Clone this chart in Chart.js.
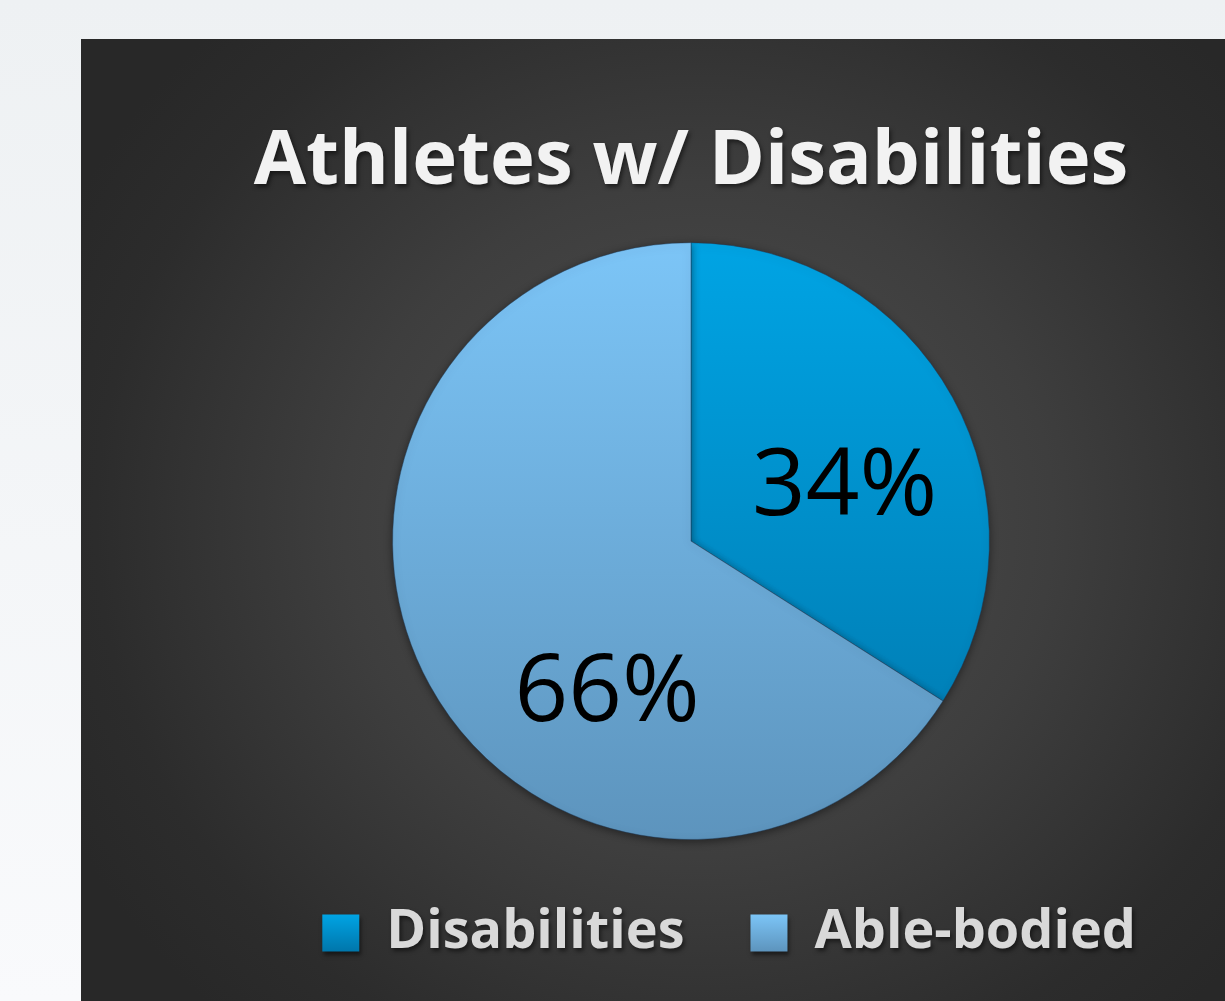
<!DOCTYPE html>
<html>
<head>
<meta charset="utf-8">
<script src="https://cdn.jsdelivr.net/npm/chart.js@4/dist/chart.umd.min.js"></script>
<style>
  html, body { margin: 0; padding: 0; }
  body { width: 1225px; height: 1001px; overflow: hidden; position: relative;
         background: linear-gradient(180deg, #eef1f3 0%, #f9fafc 100%); }
  #panel { position: absolute; left: 81px; top: 39px; right: 0; bottom: 0;
           background: radial-gradient(ellipse 62% 70% at 54% 50%, #505050 0%, #3e3e3e 50%, #2c2c2c 85%, #282828 100%); }
  #wrap { position: absolute; left: 0; top: 0; width: 1225px; height: 1001px; }
</style>
</head>
<body>
<div id="panel"></div>
<div id="wrap"><canvas id="c"></canvas></div>
<script>
const categories = ['Disabilities', 'Able-bodied'];
const values = [34, 66];
const chartTitle = 'Athletes w/ Disabilities';

const topColors = ['#00a4e4', '#7cc5f7'];
const bottomColors = ['#0076ab', '#5d94bd'];
// label anchor offsets (fraction of radius) from pie centre
const labelOffsets = [{dx: 0.515, dy: -0.087}, {dx: -0.281, dy: 0.602}];

function sliceGradient(ctx) {
  const chart = ctx.chart;
  const a = chart.chartArea;
  if (!a) return topColors[ctx.dataIndex];
  const g = chart.ctx.createLinearGradient(0, a.top, 0, a.bottom);
  g.addColorStop(0, topColors[ctx.dataIndex]);
  g.addColorStop(1, bottomColors[ctx.dataIndex]);
  return g;
}

function setShadow(c, col, ox, oy, blur) {
  c.shadowColor = col; c.shadowOffsetX = ox; c.shadowOffsetY = oy; c.shadowBlur = blur;
}

const stylePlugin = {
  id: 'styleFx',
  beforeDraw(chart) {
    const lg = chart.legend;
    if (lg && lg.legendItems) {
      const y0 = lg.top + 66 + 8.5, y1 = y0 + 37;
      lg.legendItems.forEach((it, i) => {
        const g = chart.ctx.createLinearGradient(0, y0, 0, y1);
        g.addColorStop(0, topColors[i]);
        g.addColorStop(1, bottomColors[i]);
        it.fillStyle = g;
        it.lineWidth = 0;
        it.strokeStyle = 'rgba(0,0,0,0)';
      });
    }
    setShadow(chart.ctx, 'rgba(0,0,0,0.5)', 2, 3, 4);
  },
  beforeDatasetsDraw(chart) {
    setShadow(chart.ctx, 'rgba(0,0,0,0.45)', 0, 2, 8);
  },
  afterDatasetsDraw(chart) {
    const c = chart.ctx;
    setShadow(c, 'rgba(0,0,0,0)', 0, 0, 0);
    const meta = chart.getDatasetMeta(0);
    const total = values.reduce((s, v) => s + v, 0);
    c.save();
    c.font = '400 94px "Open Sans"';
    c.fillStyle = '#000000';
    c.textAlign = 'center';
    c.textBaseline = 'alphabetic';
    meta.data.forEach((el, i) => {
      const r = el.outerRadius;
      const off = labelOffsets[i];
      const txt = Math.round(values[i] / total * 100) + '%';
      c.fillText(txt, el.x + off.dx * r, el.y + off.dy * r);
    });
    c.restore();
  }
};

new Chart(document.getElementById('c'), {
  type: 'pie',
  data: {
    labels: categories,
    datasets: [{
      data: values,
      backgroundColor: sliceGradient,
      borderColor: 'rgba(30,60,90,0.45)',
      borderWidth: 1
    }]
  },
  options: {
    responsive: true,
    maintainAspectRatio: false,
    animation: false,
    layout: { padding: { left: 180, right: 23, top: 0, bottom: 31 } },
    plugins: {
      title: {
        display: true,
        text: chartTitle,
        color: '#f2f2f2',
        font: { family: '"Open Sans"', weight: 'bold', size: 76, lineHeight: 1.2 },
        padding: { top: 117, bottom: 34 }
      },
      legend: {
        display: true,
        position: 'bottom',
        align: 'end',
        labels: {
          color: '#d9d9d9',
          font: { family: '"Open Sans"', weight: 'bold', size: 54 },
          boxWidth: 37,
          boxHeight: 37,
          padding: 66
        }
      },
      tooltip: { enabled: false }
    }
  },
  plugins: [stylePlugin]
});
</script>
</body>
</html>
